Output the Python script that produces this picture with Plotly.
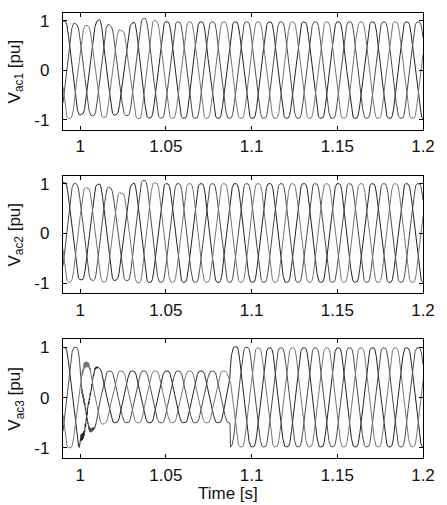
import numpy as np
import plotly.graph_objects as go

# ---- data ----
F_HZ = 50.0                 # fundamental frequency
T_PEAK = 1.0505             # time of a phase-a positive peak
H5 = -0.04                  # relative 5th-harmonic content (flattened tops)
T_START, T_END = 0.99, 1.2
PHASE_COLORS = ["#222222", "#4a4a4a", "#767676"]

# panel 1 (Vac1): upper / lower envelopes
UP1_T = [0.990, 0.9913, 0.9989, 1.0056, 1.0113, 1.0180, 1.0246, 1.0313, 1.0376, 1.0446, 1.0520, 1.200]
UP1_V = [1.00, 1.00, 0.93, 0.90, 1.03, 0.90, 0.80, 0.98, 1.06, 1.00, 0.98, 0.98]
LO1_T = [0.990, 0.9923, 1.0009, 1.0075, 1.0151, 1.0216, 1.0285, 1.0351, 1.0416, 1.0500, 1.200]
LO1_V = [-0.99, -0.99, -0.89, -0.92, -0.96, -0.89, -0.92, -0.99, -0.96, -0.97, -0.97]

# panel 2 (Vac2)
UP2_T = [0.990, 0.9923, 0.9976, 1.0041, 1.0113, 1.0180, 1.0243, 1.0313, 1.0374, 1.0437, 1.0500, 1.200]
UP2_V = [1.02, 1.02, 1.00, 0.91, 1.00, 0.91, 0.80, 1.02, 1.07, 1.02, 1.00, 1.00]
LO2_T = [0.990, 0.9923, 0.9980, 1.0056, 1.0151, 1.0218, 1.0294, 1.0351, 1.0420, 1.200]
LO2_V = [-0.99, -0.99, -0.93, -0.93, -0.98, -0.93, -0.95, -1.00, -0.98, -0.98]

# panel 3 (Vac3)
UP3_T = [0.990, 0.9995, 1.0005, 1.0040, 1.0100, 1.0160, 1.0860, 1.0874, 1.0877, 1.0920, 1.1000, 1.200]
UP3_V = [1.00, 1.00, 0.65, 0.66, 0.60, 0.53, 0.53, 0.65, 1.00, 1.02, 0.99, 0.99]
LO3_T = [0.990, 0.9995, 1.0005, 1.0060, 1.0110, 1.0160, 1.0874, 1.0877, 1.200]
LO3_V = [-1.00, -1.00, -0.80, -0.66, -0.55, -0.50, -0.50, -0.98, -0.98]
RIP3_T = [0.990, 1.0003, 1.0006, 1.0060, 1.0120, 1.200]
RIP3_V = [0.00, 0.00, 0.07, 0.04, 0.00, 0.00]
RIP_HZ = 2100.0

PANELS = [
    ("V<sub>ac1</sub> [pu]", UP1_T, UP1_V, LO1_T, LO1_V, None, None),
    ("V<sub>ac2</sub> [pu]", UP2_T, UP2_V, LO2_T, LO2_V, None, None),
    ("V<sub>ac3</sub> [pu]", UP3_T, UP3_V, LO3_T, LO3_V, RIP3_T, RIP3_V),
]
X_TICKS = [1, 1.05, 1.1, 1.15, 1.2]
X_TICKTEXT = ["1", "1.05", "1.1", "1.15", "1.2"]
Y_TICKS = [-1, 0, 1]
Y_TICKTEXT = ["-1", "0", "1"]

# ---- build waveforms ----
t = np.linspace(T_START, T_END, 6001)
theta = 2 * np.pi * F_HZ * (t - T_PEAK)

domains = [(0.7377, 1.0), (0.370, 0.6345), (0.0, 0.2668)]
FONT = "Liberation Sans, Arial, sans-serif"

fig = go.Figure()
annotations = []
for i, (label, ut, uv, lt, lv, rt, rv) in enumerate(PANELS):
    up = np.interp(t, ut, uv)
    lo = np.interp(t, lt, lv)
    mid = (up + lo) / 2
    half = (up - lo) / 2
    rip = np.interp(t, rt, rv) if rt is not None else np.zeros_like(t)
    ax = "" if i == 0 else str(i + 1)
    for k in range(3):
        th = theta - 2 * np.pi * k / 3
        unit = (np.cos(th) + H5 * np.cos(5 * th)) / (1 + H5)
        ripple = rip * np.sin(2 * np.pi * RIP_HZ * t + 2.1 * k)
        v = mid + half * unit + ripple
        fig.add_trace(go.Scatter(
            x=t, y=v, mode="lines",
            line=dict(color=PHASE_COLORS[k], width=1),
            xaxis="x" + ax, yaxis="y" + ax, showlegend=False, hoverinfo="skip"))
    common = dict(showline=True, linecolor="black", linewidth=1.3, mirror="allticks",
                  ticks="inside", ticklen=4, tickcolor="black", showgrid=False,
                  zeroline=False, tickfont=dict(family=FONT, size=17, color="#111111"))
    fig.update_layout(**{
        "xaxis" + ax: dict(domain=[0, 1], range=[T_START, T_END], anchor="y" + ax,
                           tickvals=X_TICKS, ticktext=X_TICKTEXT, ticklabelstandoff=1, **common),
        "yaxis" + ax: dict(domain=list(domains[i]), range=[-1.2, 1.16], anchor="x" + ax,
                           tickvals=Y_TICKS, ticktext=Y_TICKTEXT, ticklabelstandoff=9, **common),
    })
    annotations.append(dict(text=label, xref="paper", yref="y" + ax + " domain",
                            x=-0.1304, y=0.5, xanchor="center", yanchor="middle",
                            textangle=-90, showarrow=False,
                            font=dict(family=FONT, size=17, color="#111111")))

annotations.append(dict(text="Time [s]", xref="paper", yref="paper", x=0.458, y=-0.080,
                        xanchor="center", yanchor="middle", showarrow=False,
                        font=dict(family=FONT, size=17, color="#111111")))

fig.update_layout(width=447, height=505, margin=dict(l=63, r=16, t=12, b=47),
                  paper_bgcolor="white", plot_bgcolor="white",
                  annotations=annotations, showlegend=False)
fig.write_html("out.html")
